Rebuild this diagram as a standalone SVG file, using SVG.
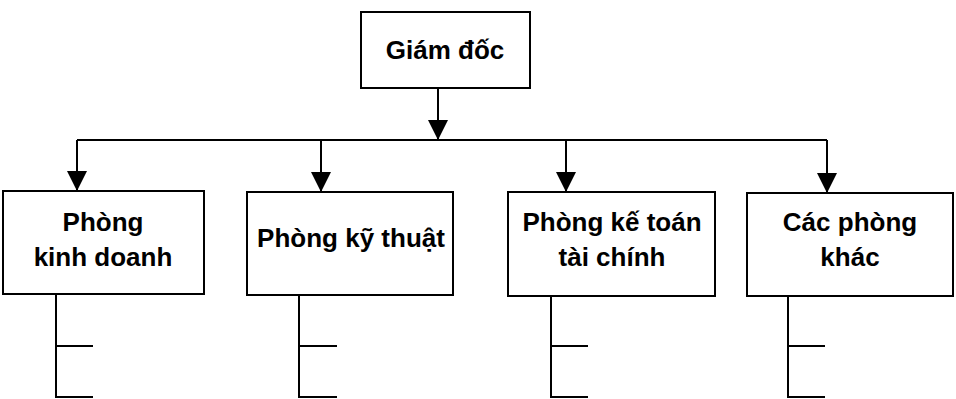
<svg xmlns="http://www.w3.org/2000/svg" width="956" height="399" viewBox="0 0 956 399">
<style>
.box{fill:#fff;stroke:#000;stroke-width:2}
.ln{fill:none;stroke:#000;stroke-width:2}
.t{font-family:"Liberation Sans",Arial,sans-serif;font-weight:bold;font-size:26px;text-anchor:middle;fill:#000}
</style>
<defs>
<marker id="ah" markerUnits="userSpaceOnUse" markerWidth="20" markerHeight="21" refX="20" refY="10" orient="auto">
<path d="M0,0 L20,10 L0,20 Z" fill="#000"/>
</marker>
</defs>
<rect width="956" height="399" fill="#fff"/>
<g id="connectors">
<path class="ln" d="M438,88 V140" marker-end="url(#ah)"/>
<path class="ln" d="M77,140 H827"/>
<path class="ln" d="M77,140 V191" marker-end="url(#ah)"/>
<path class="ln" d="M321,140 V192" marker-end="url(#ah)"/>
<path class="ln" d="M566,140 V192" marker-end="url(#ah)"/>
<path class="ln" d="M827,140 V193" marker-end="url(#ah)"/>
<path class="ln" d="M56,294 V397 H93 M56,346 H93"/>
<path class="ln" d="M299,295 V397 H337 M299,346 H337"/>
<path class="ln" d="M551,296 V397 H588 M551,346 H588"/>
<path class="ln" d="M788,296 V397 H825 M788,346 H825"/>
</g>
<g id="giam-doc">
<rect class="box" x="361" y="12" width="169" height="76"/>
<text class="t" x="445" y="59">Giám đốc</text>
</g>
<g id="phong-kinh-doanh">
<rect class="box" x="3" y="191" width="201" height="103"/>
<text class="t" x="103" y="231">Phòng</text>
<text class="t" x="103" y="266">kinh doanh</text>
</g>
<g id="phong-ky-thuat">
<rect class="box" x="247" y="192" width="206" height="103"/>
<text class="t" x="351" y="247">Phòng kỹ thuật</text>
</g>
<g id="phong-ke-toan">
<rect class="box" x="508" y="192" width="207" height="104"/>
<text class="t" x="612" y="231">Phòng kế toán</text>
<text class="t" x="612" y="266">tài chính</text>
</g>
<g id="cac-phong-khac">
<rect class="box" x="747" y="193" width="206" height="103"/>
<text class="t" x="850" y="231">Các phòng</text>
<text class="t" x="850" y="266">khác</text>
</g>
</svg>
